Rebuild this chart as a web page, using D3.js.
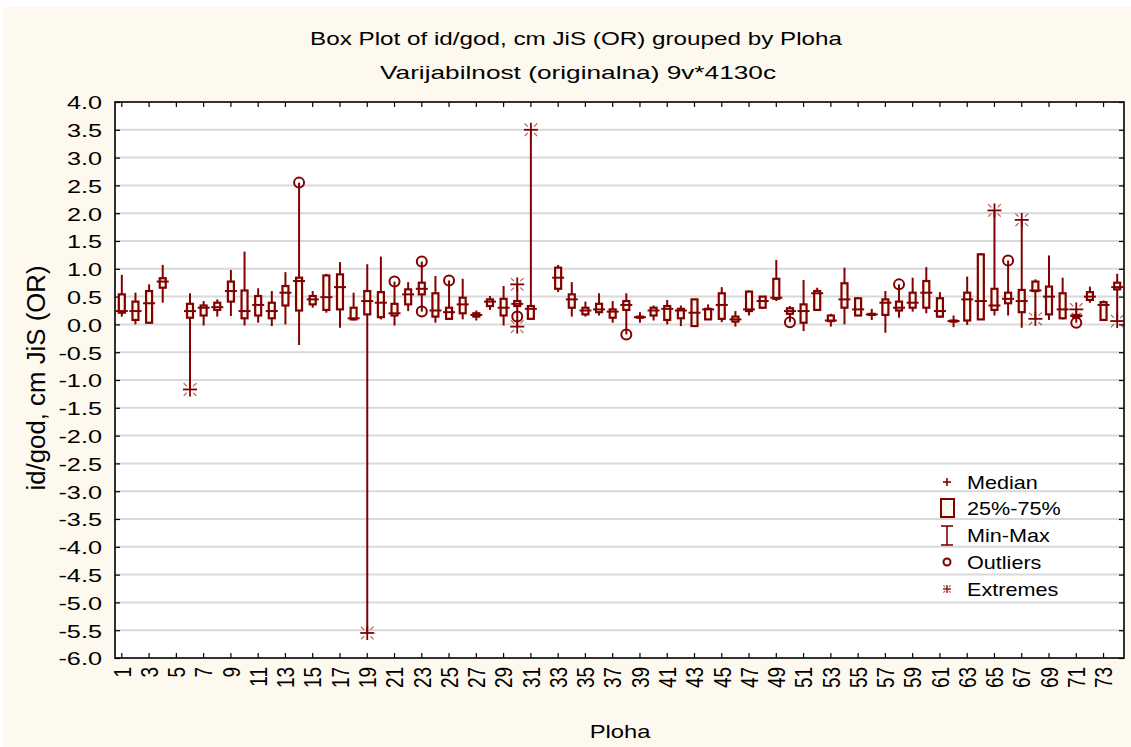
<!DOCTYPE html>
<html><head><meta charset="utf-8">
<script src="https://cdn.jsdelivr.net/npm/d3@7"></script>
<style>body{margin:0;background:#fff} text{font-family:Arial,"Liberation Sans",sans-serif}</style>
</head><body><svg id="c" width="1131" height="747"></svg>
<script>
// ---------- data ----------
const categories = [1,2,3,4,5,6,7,8,9,10,11,12,13,14,15,16,17,18,19,20,21,22,23,24,25,26,27,28,29,30,31,32,33,34,35,36,37,38,39,40,41,42,43,44,45,46,47,48,49,50,51,52,53,54,55,56,57,58,59,60,61,62,63,64,65,66,67,68,69,70,71,72,73,74];
const medians = [0.24,0.24,0.38,0.77,null,0.24,0.30,0.31,0.60,0.24,0.35,0.24,0.57,0.78,0.45,0.49,0.67,0.11,0.42,0.39,0.20,0.54,0.64,0.25,0.22,0.36,0.17,0.41,0.30,0.37,0.28,null,0.84,0.45,0.25,0.27,0.23,0.35,0.13,0.25,0.28,0.25,0.21,0.27,0.35,0.09,0.27,0.42,0.48,0.24,0.24,0.56,0.07,0.45,0.27,0.18,0.39,0.30,0.39,0.57,0.24,0.06,0.45,0.42,0.34,0.46,0.42,0.61,0.50,0.27,0.15,0.50,0.35,0.67];
const q1 = [0.21,0.08,0.03,0.66,null,0.12,0.16,0.26,0.41,0.11,0.16,0.11,0.34,0.25,0.36,0.26,0.27,0.09,0.18,0.13,0.16,0.36,0.54,0.14,0.10,0.20,0.14,0.33,0.16,0.33,0.10,null,0.64,0.30,0.18,0.22,0.12,0.26,0.12,0.16,0.08,0.11,-0.03,0.09,0.10,0.05,0.24,0.30,0.46,0.19,0.03,0.26,0.06,0.30,0.16,0.17,0.17,0.25,0.30,0.30,0.14,0.05,0.07,0.09,0.26,0.38,0.22,0.60,0.18,0.11,0.13,0.44,0.08,0.63];
const q3 = [0.54,0.41,0.60,0.83,null,0.37,0.34,0.39,0.77,0.61,0.51,0.39,0.69,0.84,0.51,0.88,0.90,0.30,0.60,0.58,0.37,0.63,0.75,0.56,0.30,0.48,0.20,0.45,0.46,0.42,0.33,null,1.02,0.54,0.30,0.37,0.27,0.42,0.14,0.30,0.33,0.28,0.45,0.28,0.56,0.14,0.59,0.50,0.82,0.29,0.36,0.60,0.16,0.74,0.47,0.19,0.45,0.41,0.57,0.78,0.47,0.07,0.57,1.26,0.64,0.57,0.62,0.77,0.68,0.56,0.17,0.58,0.40,0.75];
const mins = [0.14,0.00,0.02,0.39,null,-1.17,-0.02,0.14,0.15,-0.02,0.03,-0.03,0.00,-0.37,0.30,0.21,-0.06,0.07,-5.55,0.09,-0.02,0.24,0.23,0.03,0.09,0.09,0.07,0.26,-0.02,-0.04,0.08,null,0.58,0.14,0.14,0.16,0.03,-0.18,0.03,0.07,0.00,-0.03,-0.04,0.08,0.04,-0.04,0.16,0.28,0.42,0.04,-0.12,0.26,-0.04,0.00,0.15,0.08,-0.15,0.12,0.23,0.20,0.12,-0.05,-0.01,0.08,0.16,0.16,-0.06,0.10,0.08,0.09,0.03,0.39,0.06,0.06];
const maxs = [0.89,0.57,0.72,1.07,null,0.56,0.42,0.45,0.98,1.31,0.65,0.60,0.94,2.55,0.60,0.91,1.12,0.57,1.08,1.22,0.77,0.76,1.13,0.87,0.79,0.82,0.25,0.51,0.69,0.72,3.50,null,1.07,0.76,0.41,0.56,0.42,0.56,0.22,0.34,0.44,0.34,0.46,0.36,0.67,0.24,0.61,0.51,1.16,0.33,0.80,0.66,0.19,1.02,0.48,0.28,0.60,0.72,0.84,1.03,0.58,0.16,0.86,1.28,2.05,1.15,1.88,0.81,1.24,0.84,0.27,0.68,0.43,0.91];
// outliers / extremes: [category, value]
const outlierCats = [14,21,23,23,25,30,38,50,58,66,71];
const outlierVals = [2.55,0.77,1.13,0.23,0.79,0.14,-0.18,0.04,0.72,1.15,0.03];
const extremeCats = [6,19,30,30,31,65,67,68,71,74];
const extremeVals = [-1.17,-5.55,0.72,-0.04,3.50,2.05,1.88,0.10,0.27,0.06];
const yTicks = [-6,-5.5,-5,-4.5,-4,-3.5,-3,-2.5,-2,-1.5,-1,-0.5,0,0.5,1,1.5,2,2.5,3,3.5,4];
const xTickLabels = [1,3,5,7,9,11,13,15,17,19,21,23,25,27,29,31,33,35,37,39,41,43,45,47,49,51,53,55,57,59,61,63,65,67,69,71,73];
const legendLabels = ["Median","25%-75%","Min-Max","Outliers","Extremes"];

// ---------- layout ----------
const W=1131,H=747;
const L=115,R=1124,T=102,B=658;
const RED="#820000", BG="#fdf9ee";
const FONT="Arial, 'Liberation Sans', sans-serif";
const svg=d3.select("#c");
svg.append("rect").attr("x",3).attr("y",7).attr("width",W-3).attr("height",H-7).attr("fill",BG);
svg.append("rect").attr("x",L).attr("y",T).attr("width",R-L).attr("height",B-T).attr("fill","#fff");

const x=d3.scaleBand().domain(categories).range([L,R]).padding(0);
const cx=c=>x(c)+x.bandwidth()/2;
const y=d3.scaleLinear().domain([-6,4]).range([B,T]);

// horizontally stretched text helper (x, y anchor in user space)
function stext(parent,tx,ty,str,size,sx,anchor){
  return parent.append("text").attr("transform",`translate(${tx},${ty}) scale(${sx},1)`)
    .attr("text-anchor",anchor||"start").attr("font-size",size).attr("font-family",FONT).attr("fill","#000").text(str);
}

// grid
svg.append("g").selectAll("line").data(yTicks.filter(v=>v>-6&&v<4)).join("line")
  .attr("x1",L).attr("x2",R).attr("y1",d=>y(d)).attr("y2",d=>y(d))
  .attr("stroke","#d9d9d9").attr("stroke-width",2);

// axes
const fmt=d=>d.toFixed(1);
const ya=svg.append("g").attr("transform",`translate(${L},0)`)
  .call(d3.axisLeft(y).tickValues(yTicks).tickFormat(fmt).tickSize(-5));
svg.append("g").attr("transform",`translate(${R},0)`)
  .call(d3.axisRight(y).tickValues(yTicks).tickFormat("").tickSize(-5));
const xa=svg.append("g").attr("transform",`translate(0,${B})`)
  .call(d3.axisBottom(x).tickValues(xTickLabels).tickSize(-5));
svg.append("g").attr("transform",`translate(0,${T})`)
  .call(d3.axisTop(x).tickValues(xTickLabels).tickFormat("").tickSize(-5));
svg.selectAll(".domain").remove();
svg.selectAll(".tick line").attr("stroke","#000").attr("stroke-width",1.2);
ya.selectAll("text").attr("font-size",19).attr("fill","#000").attr("font-family",FONT)
  .attr("x",0).attr("dy","0.36em").attr("text-anchor","end")
  .attr("transform","translate(-13,0) scale(1.33,1)");
xa.selectAll("text").attr("font-size",19).attr("fill","#000").attr("font-family",FONT)
  .attr("x",-9).attr("y",0).attr("dy","0.36em").attr("text-anchor","end")
  .attr("transform","rotate(-90) scale(1,1.28)");

// frame
svg.append("rect").attr("x",L).attr("y",T).attr("width",R-L).attr("height",B-T)
  .attr("fill","none").attr("stroke","#000").attr("stroke-width",1.6);

// boxes
const idx=categories.map((c,i)=>i).filter(i=>medians[i]!==null);
const g=svg.append("g");
g.selectAll("line.wh").data(idx).join("line").attr("class","wh")
  .attr("x1",i=>cx(categories[i])).attr("x2",i=>cx(categories[i]))
  .attr("y1",i=>y(maxs[i])).attr("y2",i=>y(mins[i]))
  .attr("stroke",RED).attr("stroke-width",2);
g.selectAll("rect.bx").data(idx).join("rect").attr("class","bx")
  .attr("x",i=>cx(categories[i])-3).attr("width",6)
  .attr("y",i=>y(q3[i])).attr("height",i=>Math.max(0.5,y(q1[i])-y(q3[i])))
  .attr("fill",BG).attr("stroke",RED).attr("stroke-width",2.2);
g.selectAll("line.md").data(idx).join("line").attr("class","md")
  .attr("x1",i=>cx(categories[i])-6).attr("x2",i=>cx(categories[i])+6)
  .attr("y1",i=>y(medians[i])).attr("y2",i=>y(medians[i]))
  .attr("stroke",RED).attr("stroke-width",2);

// outliers
g.selectAll("circle.out").data(outlierCats.map((c,i)=>i)).join("circle").attr("class","out")
  .attr("cx",i=>cx(outlierCats[i])).attr("cy",i=>y(outlierVals[i])).attr("r",5)
  .attr("fill","none").attr("stroke",RED).attr("stroke-width",2);

// extremes
function asterisk(sel,s,w){
  sel.append("line").attr("x1",-s).attr("x2",s).attr("y1",0).attr("y2",0).attr("stroke",RED).attr("stroke-width",w);
  sel.append("line").attr("x1",0).attr("x2",0).attr("y1",-s).attr("y2",s).attr("stroke",RED).attr("stroke-width",w);
  const a=s*0.45,b=s*0.9;
  [[1,1],[1,-1],[-1,1],[-1,-1]].forEach(([p,q])=>{
    sel.append("line").attr("x1",p*a).attr("y1",q*a).attr("x2",p*b).attr("y2",q*b)
      .attr("stroke",RED).attr("stroke-width",1.1).attr("opacity",0.65);
  });
}
extremeCats.forEach((c,i)=>{
  const e=g.append("g").attr("transform",`translate(${cx(c)},${y(extremeVals[i])})`);
  asterisk(e,7,1.8);
});

// titles
svg.append("text").attr("x",576).attr("y",45).attr("text-anchor","middle").attr("font-size",19).attr("font-family",FONT)
  .attr("textLength",532).attr("lengthAdjust","spacingAndGlyphs")
  .text("Box Plot of id/god, cm  JiS (OR) grouped by  Ploha");
svg.append("text").attr("x",578).attr("y",79).attr("text-anchor","middle").attr("font-size",19).attr("font-family",FONT)
  .attr("textLength",396).attr("lengthAdjust","spacingAndGlyphs")
  .text("Varijabilnost (originalna) 9v*4130c");
svg.append("text").attr("transform","translate(45,378) rotate(-90) scale(1,1.3)").attr("text-anchor","middle")
  .attr("font-size",20).attr("font-family",FONT)
  .attr("textLength",225).attr("lengthAdjust","spacingAndGlyphs")
  .text("id/god, cm  JiS (OR)");
stext(svg,620,738,"Ploha",19,1.25,"middle");

// legend
const ly=[482,508,535,562,589], lx=947;
const lg=svg.append("g");
legendLabels.forEach((t,i)=>{
  stext(lg,967,ly[i]+6.5,t,18,1.2,"start");
});
lg.append("line").attr("x1",lx-4).attr("x2",lx+4).attr("y1",ly[0]).attr("y2",ly[0]).attr("stroke",RED).attr("stroke-width",1.6);
lg.append("line").attr("x1",lx).attr("x2",lx).attr("y1",ly[0]-4).attr("y2",ly[0]+4).attr("stroke",RED).attr("stroke-width",1.6);
lg.append("rect").attr("x",lx-6).attr("y",ly[1]-9).attr("width",13).attr("height",18).attr("fill",BG).attr("stroke",RED).attr("stroke-width",2);
lg.append("line").attr("x1",lx).attr("x2",lx).attr("y1",ly[2]-9).attr("y2",ly[2]+10).attr("stroke",RED).attr("stroke-width",1.6);
lg.append("line").attr("x1",lx-6).attr("x2",lx+6).attr("y1",ly[2]-9).attr("y2",ly[2]-9).attr("stroke",RED).attr("stroke-width",1.6);
lg.append("line").attr("x1",lx-6).attr("x2",lx+6).attr("y1",ly[2]+10).attr("y2",ly[2]+10).attr("stroke",RED).attr("stroke-width",1.6);
lg.append("circle").attr("cx",lx).attr("cy",ly[3]).attr("r",3.5).attr("fill","none").attr("stroke",RED).attr("stroke-width",2);
asterisk(lg.append("g").attr("transform",`translate(${lx},${ly[4]})`),4,1.3);
</script></body></html>
